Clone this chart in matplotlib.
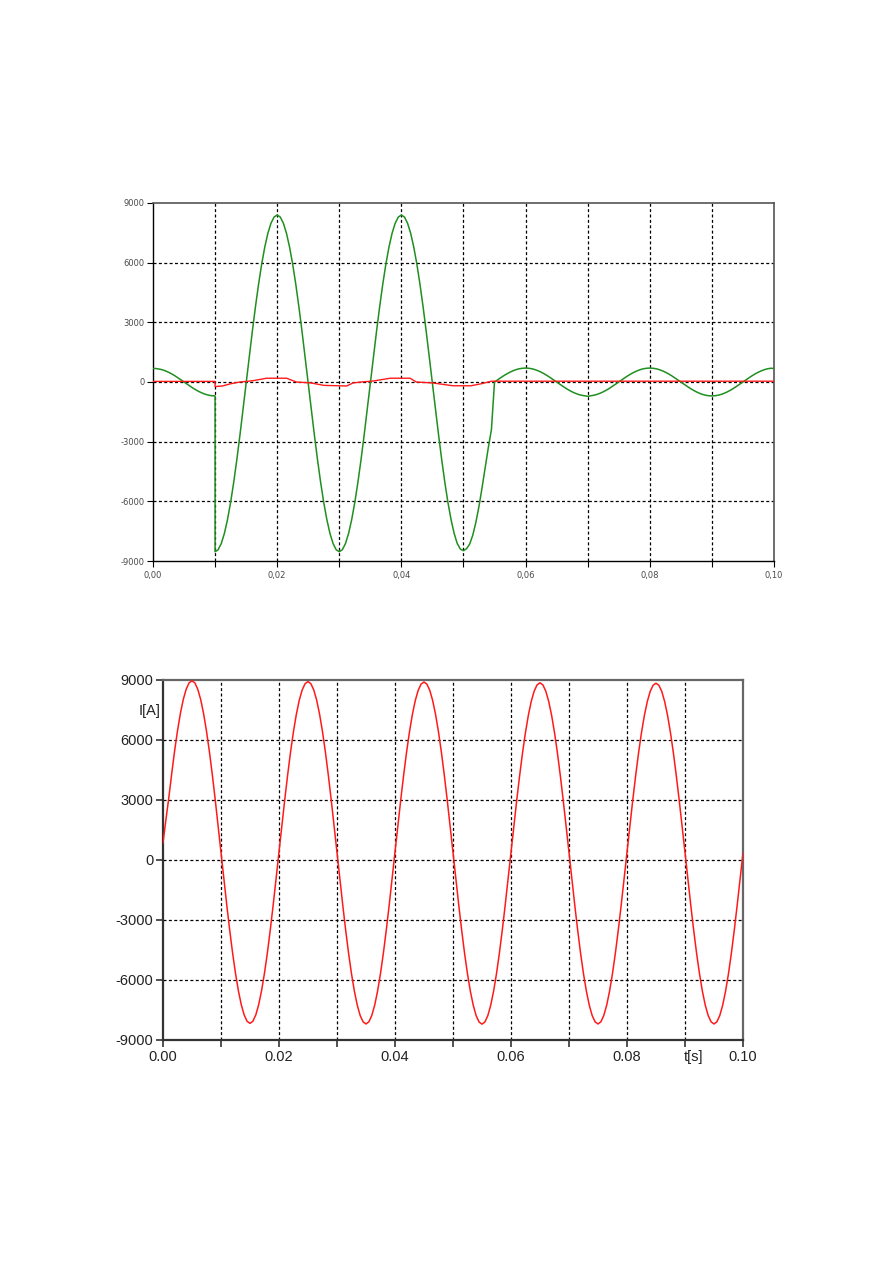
import numpy as np
import matplotlib
matplotlib.use("Agg")
import matplotlib.pyplot as plt
from matplotlib.ticker import MultipleLocator, FixedLocator

# ---------------- data ----------------
# upper plot, 0.5 ms samples
# green phase current before the fault, 0.000 .. 0.010 s
green_pre = [680, 676, 650, 615, 560, 490, 410, 318, 215, 109,
             0, -109, -216, -318, -412, -495, -566, -624, -666, -691,
             -700]
# green phase current from fault inception, 0.010 .. 0.100 s
green_post = [
    # 0.0100 .. 0.0200
    -8535, -8431, -8120, -7612, -6918, -6056, -5047, -3913, -2686, -1394,
    -70, 1254, 2546, 3773, 4907, 5916, 6778, 7472, 7980, 8291, 8395,
    # 0.0205 .. 0.0300
    8291, 7980, 7472, 6778, 5916, 4907, 3773, 2546, 1254, -70,
    -1394, -2686, -3913, -5047, -6056, -6918, -7612, -8120, -8431, -8535,
    # 0.0305 .. 0.0400
    -8431, -8120, -7612, -6918, -6056, -5047, -3913, -2686, -1394, -70,
    1254, 2546, 3773, 4907, 5916, 6778, 7472, 7980, 8291, 8395,
    # 0.0405 .. 0.0500
    8291, 7980, 7472, 6778, 5916, 4907, 3773, 2546, 1254, -70,
    -1394, -2686, -3913, -5047, -6056, -6918, -7612, -8120, -8400, -8480,
    # 0.0505 .. 0.0550
    -8380, -8150, -7700, -7050, -6250, -5300, -4300, -3300, -2400, 0,
    # 0.0555 .. 0.0600
    109, 216, 318, 412, 495, 566, 624, 666, 691, 700,
    # 0.0605 .. 0.0700
    691, 666, 624, 566, 495, 412, 318, 216, 109, 0,
    -109, -216, -318, -412, -495, -566, -624, -666, -691, -720,
    # 0.0705 .. 0.0800
    -691, -666, -624, -566, -495, -412, -318, -216, -109, 0,
    109, 216, 318, 412, 495, 566, 624, 666, 691, 700,
    # 0.0805 .. 0.0900
    691, 666, 624, 566, 495, 412, 318, 216, 109, 0,
    -109, -216, -318, -412, -495, -566, -624, -666, -691, -700,
    # 0.0905 .. 0.1000
    -691, -666, -624, -566, -495, -412, -318, -216, -109, 0,
    109, 216, 318, 412, 495, 566, 624, 666, 691, 680,
]
# red neutral current, breakpoints
red_t = [0.0, 0.0100, 0.0100, 0.0112, 0.0125, 0.0140, 0.0160, 0.0183, 0.0215,
         0.0231, 0.0255, 0.0275, 0.0312, 0.0322, 0.0335, 0.0355, 0.0382, 0.0414,
         0.0424, 0.0451, 0.0483, 0.0512, 0.0530, 0.0545, 0.1]
red_v = [30, 30, -230, -200, -90, 0, 60, 190, 190,
         0, -50, -170, -200, -50, 0, 50, 190, 190,
         0, -50, -190, -190, -80, 40, 40]

# lower plot: current, 0.5 ms samples 0.000 .. 0.100 s
current = [
    # 0.000 .. 0.0195
    850, 2000, 3100, 4300, 5440, 6450, 7323, 8026, 8540, 8855,
    8960, 8855, 8540, 8026, 7323, 6450, 5429, 4281, 3038, 1730,
    390, -949, -2255, -3496, -4643, -5663, -6535, -7237, -7751, -8065,
    -8170, -8065, -7751, -7237, -6535, -5663, -4643, -3496, -2255, -949,
    # 0.020 .. 0.0395
    390, 1724, 3026, 4263, 5406, 6422, 7291, 7990, 8502, 8815,
    8920, 8815, 8502, 7990, 7291, 6422, 5406, 4263, 3026, 1724,
    390, -953, -2264, -3510, -4661, -5684, -6559, -7264, -7779, -8094,
    -8200, -8094, -7779, -7264, -6559, -5684, -4661, -3510, -2264, -953,
    # 0.040 .. 0.0595
    390, 1721, 3020, 4254, 5394, 6407, 7275, 7972, 8483, 8795,
    8900, 8795, 8483, 7972, 7275, 6407, 5394, 4254, 3020, 1721,
    390, -955, -2267, -3514, -4667, -5691, -6567, -7273, -7789, -8104,
    -8210, -8104, -7789, -7273, -6567, -5691, -4667, -3514, -2267, -955,
    # 0.060 .. 0.0795
    390, 1715, 3007, 4235, 5370, 6379, 7242, 7937, 8445, 8756,
    8860, 8756, 8445, 7937, 7242, 6379, 5370, 4235, 3007, 1715,
    390, -953, -2264, -3510, -4661, -5684, -6559, -7264, -7779, -8094,
    -8200, -8094, -7779, -7264, -6559, -5684, -4661, -3510, -2264, -953,
    # 0.080 .. 0.0995
    390, 1712, 3001, 4226, 5359, 6365, 7226, 7919, 8426, 8736,
    8840, 8736, 8426, 7919, 7226, 6365, 5359, 4226, 3001, 1712,
    390, -953, -2264, -3510, -4661, -5684, -6559, -7264, -7779, -8094,
    -8200, -8094, -7779, -7264, -6559, -5684, -4661, -3510, -2264, -953,
    # 0.100
    350,
]

y_ticks = [-9000, -6000, -3000, 0, 3000, 6000, 9000]
x_ticks = [0.00, 0.02, 0.04, 0.06, 0.08, 0.10]
top_xlabels = ["0,00", "0,02", "0,04", "0,06", "0,08", "0,10"]
bot_xlabels = ["0.00", "0.02", "0.04", "0.06", "0.08", "0.10"]

# sample times
dt = 0.5e-3
t_pre = np.arange(len(green_pre)) * dt
t_post = 0.010 + np.arange(len(green_post)) * dt
t_cur = np.arange(len(current)) * dt

fig = plt.figure(figsize=(8.93, 12.63), dpi=100)
fig.patch.set_facecolor("white")

grid_kw = dict(color="black", linewidth=0.9, linestyle=(0, (2.4, 1.9)))
arial = ["Liberation Sans", "DejaVu Sans"]


def style_axes(ax, spine_main, spine_other, lw_main, lw_other):
    ax.set_xlim(0, 0.1)
    ax.set_ylim(-9000, 9000)
    for s in ("left", "bottom"):
        ax.spines[s].set_color(spine_main)
        ax.spines[s].set_linewidth(lw_main)
    for s in ("top", "right"):
        ax.spines[s].set_color(spine_other)
        ax.spines[s].set_linewidth(lw_other)
    # dashed grid, interior lines only
    for x in np.arange(1, 10) * 0.01:
        ax.axvline(x, zorder=1, **grid_kw)
    for y in y_ticks[1:-1]:
        ax.axhline(y, zorder=1, **grid_kw)
    ax.xaxis.set_major_locator(FixedLocator(x_ticks))
    ax.xaxis.set_minor_locator(MultipleLocator(0.01))
    ax.yaxis.set_major_locator(FixedLocator(y_ticks))


# ---------------- upper plot ----------------
ax1 = fig.add_axes([0.1713, 0.5558, 0.6954, 0.2835])
style_axes(ax1, "black", "#555555", 1.0, 1.2)
t_green = np.concatenate([t_pre, t_post])
v_green = np.concatenate([green_pre, green_post])
ax1.plot(t_green, v_green, color="#1f8f1f", linewidth=1.1, zorder=3)
ax1.plot(red_t, red_v, color="#ff1a1a", linewidth=1.0, zorder=4)
ax1.set_xticklabels(top_xlabels)
ax1.set_yticklabels([str(v) for v in y_ticks])
ax1.tick_params(axis="both", which="both", direction="out", length=4,
                width=0.8, color="black", labelsize=6, labelcolor="#4a4a4a",
                pad=2)
ax1.tick_params(axis="x", which="major", pad=3)

# ---------------- lower plot ----------------
ax2 = fig.add_axes([0.1825, 0.1766, 0.6495, 0.2850])
style_axes(ax2, "#333333", "#666666", 1.6, 1.6)
ax2.plot(t_cur, current, color="#ff1a1a", linewidth=1.1, zorder=3)
ax2.set_xticklabels(bot_xlabels)
ax2.set_yticklabels([str(v) for v in y_ticks])
ax2.tick_params(axis="both", which="both", direction="out", length=5,
                width=1.2, color="#333333", labelsize=10.5,
                labelcolor="#222222", pad=2)
for lab in ax2.get_xticklabels() + ax2.get_yticklabels():
    lab.set_family(arial)

# axis names
ax2.annotate("I[A]", xy=(0, 7470), xycoords=("axes fraction", "data"),
             xytext=(-2, 0), textcoords="offset points", ha="right",
             va="center", fontsize=10.5, color="#222222", family=arial)
ax2.annotate("t[s]", xy=(0.0915, 0), xycoords=("data", "axes fraction"),
             xytext=(0, -7.5), textcoords="offset points", ha="center",
             va="top", fontsize=10.5, color="#222222", family=arial)

fig.savefig("out.png", dpi=100, facecolor="white")
